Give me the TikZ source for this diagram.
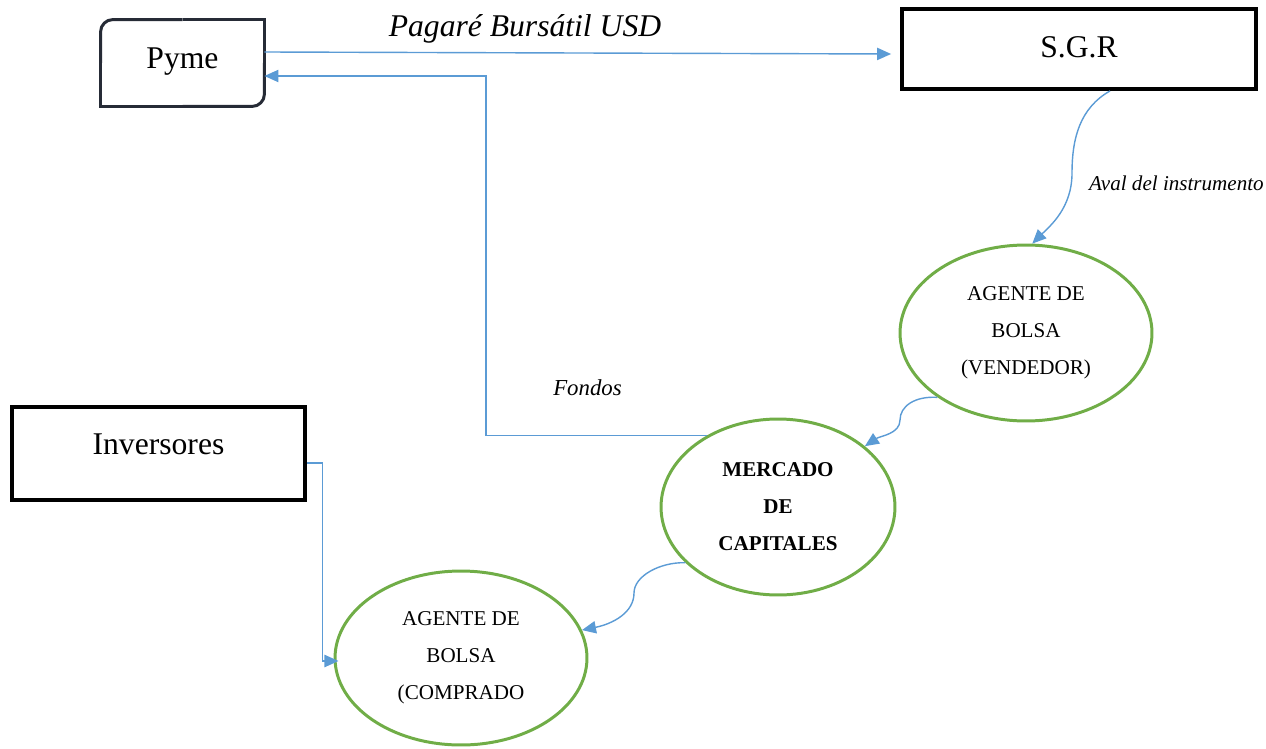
\documentclass[tikz,border=0pt]{standalone}
\usepackage{fontspec}
\setmainfont{Liberation Serif}
\usetikzlibrary{arrows.meta,calc,shapes.geometric}
\definecolor{linea}{RGB}{91,155,213}
\definecolor{verde}{RGB}{112,173,71}
\definecolor{borde}{RGB}{38,43,54}

\begin{document}
\begin{tikzpicture}[x=0.02cm,y=0.02cm,
    caja/.style={
        rectangle,draw=black,line width=2.2pt,inner sep=0pt,
        font=\fontsize{18}{20}\selectfont,text height=12.5pt
    },
    bola/.style={
        ellipse,draw=verde,line width=1.7pt,inner sep=0pt,
        align=center,font=\fontsize{12}{21}\selectfont
    },
    flecha/.style={draw=linea,line width=0.8pt,-{Triangle[length=8pt,width=7pt]}},
    etiq/.style={font=\fontsize{12}{14}\selectfont\itshape}
    ]
    \useasboundingbox (0,0) rectangle (1266,748);

    \node [caja, draw=none, minimum width=3.2cm, minimum height=1.66cm, text depth=6.8pt] (pyme) at (182.5,685) {Pyme};
    \draw [borde, line width=1.7pt, rounded corners=7pt] (pyme.west) |- (pyme.north);
    \draw [borde, line width=1.7pt] (pyme.north) -| (pyme.east);
    \draw [borde, line width=1.7pt, rounded corners=7pt] (pyme.east) |- (pyme.south);
    \draw [borde, line width=1.7pt] (pyme.south) -| (pyme.west);

    \node [caja, minimum width=7.08cm, minimum height=1.6cm, text depth=2.3pt] (sgr) at (1079,699) {S.G.R};
    \node [caja, minimum width=5.86cm, minimum height=1.86cm, text depth=10.8pt] (inv) at (158.5,294.5) {Inversores};

    \node [bola, minimum width=5.04cm, minimum height=3.52cm] (vend) at (1026,415) {AGENTE DE\\BOLSA\\(VENDEDOR)};
    \node [bola, minimum width=4.68cm, minimum height=3.52cm, font=\fontsize{12}{21}\selectfont\bfseries] (merc) at (778,241) {MERCADO\\DE\\CAPITALES};
    \node [bola, minimum width=5.04cm, minimum height=3.48cm] (comp) at (461,90) {AGENTE DE\\BOLSA\\(COMPRADO};

    \node [etiq, font=\fontsize{18}{20}\selectfont\itshape, anchor=base] (pagare) at (525,711) {Pagaré Bursátil USD};
    \node [etiq, anchor=base west] (aval) at (1083,557) {Aval del instrumento};
    \node [etiq, font=\fontsize{13}{15}\selectfont\itshape, anchor=base] (fondos) at (587.5,353) {Fondos};

    \coordinate (codo) at (486,672);
    \draw [flecha] ($(pyme.east)+(0,11)$) -- ($(sgr.west)+(-9,-5)$);
    \draw [flecha] (merc.135) -| (codo) -- ($(pyme.east)+(0,-13)$);
    \draw [flecha] ($(sgr.south)+(31,0)$) .. controls (1080,640) and (1072,610) .. (1072,575)
        .. controls (1072,540) and (1050,522) .. (vend.86);
    \draw [flecha] (vend.216) .. controls (915,352) and (900,342) .. (900,328)
        .. controls (900,314) and (880,312) .. (merc.35);
    \draw [flecha] (merc.211) .. controls (660,186) and (634,172) .. (634,155)
        .. controls (634,135) and (612,124) .. (comp.13);
    \draw [flecha] ($(inv.east)+(0,-9.5)$) -| ($(comp.west)+(-11,-3)$) -- ($(comp.west)+(5,-3)$);
\end{tikzpicture}
\end{document}
